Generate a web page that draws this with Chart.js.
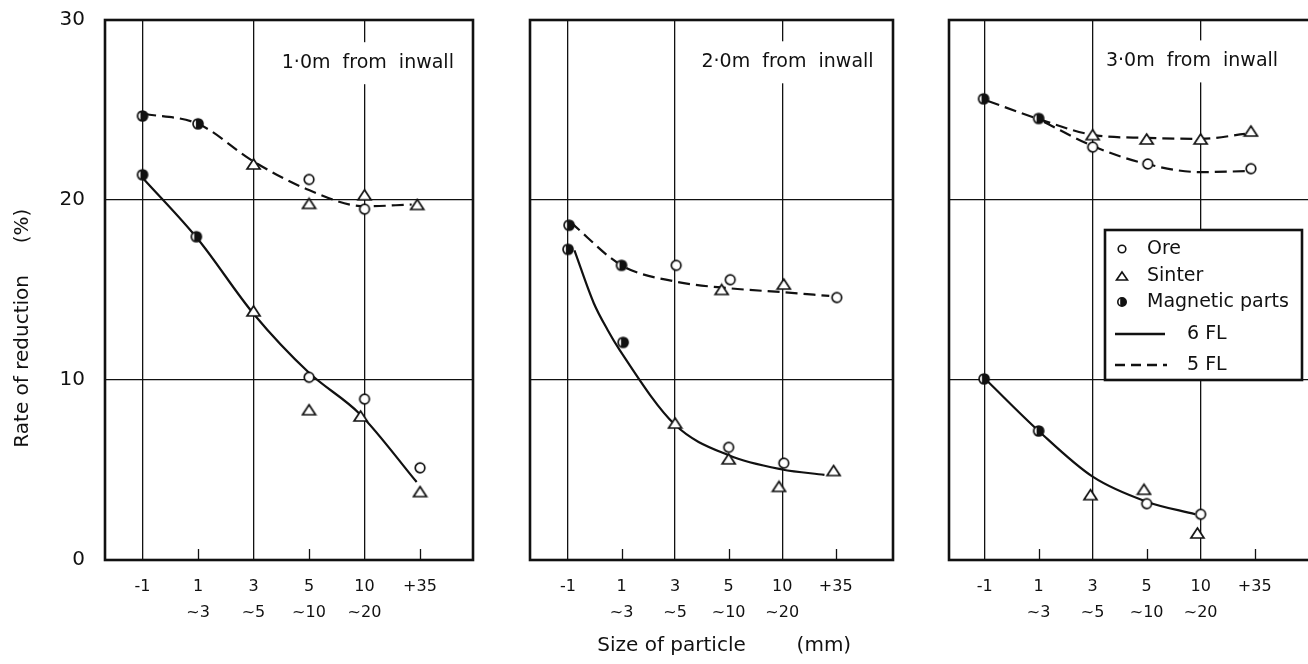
<!DOCTYPE html>
<html><head><meta charset="utf-8">
<script src="https://cdn.jsdelivr.net/npm/chart.js@4.4.1/dist/chart.umd.min.js"></script>
<style>
html,body{margin:0;padding:0;background:#fff;overflow:hidden;width:1308px;height:664px;position:relative}
canvas{position:absolute;top:0}
</style></head><body>
<canvas id="c1" width="480" height="664" style="left:0px"></canvas>
<canvas id="c2" width="400" height="664" style="left:500px"></canvas>
<canvas id="c3" width="420" height="664" style="left:900px"></canvas>
<script>
// ---------- data ----------
const X_TICK_LABELS = [['-1',''],['1','~3'],['3','~5'],['5','~10'],['10','~20'],['+35','']];
const Y_TICKS = [0, 10, 20, 30];
const PANEL_TITLES = ['1\u00B70m  from  inwall', '2\u00B70m  from  inwall', '3\u00B70m  from  inwall'];
const Y_TITLE = 'Rate of reduction     (%)';
const X_TITLE = 'Size of particle        (mm)';
const LEGEND_LABELS = ['Ore', 'Sinter', 'Magnetic parts', '6 FL', '5 FL'];

// Panel 1 : 1.0 m from inwall   ([category position, rate %])
const P1_MAG_6FL    = [[0, 21.4], [0.97, 17.96]];
const P1_SINTER_6FL = [[2, 13.84], [3, 8.35], [3.93, 8.0], [5, 3.8]];
const P1_ORE_6FL    = [[3, 10.15], [4, 8.94], [5, 5.12]];
const P1_MAG_5FL    = [[0, 24.67], [1, 24.23]];
const P1_SINTER_5FL = [[2, 22.0], [3, 19.81], [4, 20.29], [4.95, 19.75]];
const P1_ORE_5FL    = [[3, 21.14], [4, 19.49]];
const P1_CURVE_6FL  = [[0, 21.24], [1, 17.82], [2, 13.68], [3, 10.4], [3.92, 8.1], [4.94, 4.33]];
const P1_CURVE_5FL  = [[0.03, 24.79], [1, 24.23], [2, 22.14], [3, 20.55], [4, 19.65], [4.85, 19.75]];

// Panel 2 : 2.0 m from inwall
const P2_MAG_6FL    = [[0, 17.26], [1.03, 12.09]];
const P2_SINTER_6FL = [[2, 7.61], [3, 5.62], [3.94, 4.09], [4.96, 4.97]];
const P2_ORE_6FL    = [[3, 6.26], [4.03, 5.38]];
const P2_MAG_5FL    = [[0.02, 18.6], [1, 16.37]];
const P2_SINTER_5FL = [[2.87, 15.03], [4.03, 15.33]];
const P2_ORE_5FL    = [[2.02, 16.37], [3.03, 15.57], [5.02, 14.58]];
const P2_CURVE_6FL  = [[0.12, 17.2], [0.48, 14.28], [0.74, 12.78], [0.96, 11.69], [2, 7.51], [3, 5.82], [4, 5.03], [4.79, 4.73]];
const P2_CURVE_5FL  = [[0.05, 18.76], [1, 16.37], [2, 15.47], [3, 15.1], [4, 14.88], [4.88, 14.67]];

// Panel 3 : 3.0 m from inwall
const P3_MAG_6FL    = [[-0.01, 10.06], [1, 7.17]];
const P3_SINTER_6FL = [[1.96, 3.63], [2.95, 3.93], [3.94, 1.5]];
const P3_ORE_6FL    = [[3, 3.13], [4, 2.54]];
const P3_MAG_5FL    = [[-0.02, 25.62], [1, 24.53]];
const P3_SINTER_5FL = [[2, 23.63], [3, 23.39], [4, 23.39], [4.93, 23.83]];
const P3_ORE_5FL    = [[2, 22.94], [3.02, 22.0], [4.93, 21.74]];
const P3_CURVE_6FL  = [[0.03, 10.0], [1, 7.17], [2, 4.63], [3, 3.24], [3.9, 2.54]];
const P3_CURVE_5FL_SINTER = [[0.06, 25.5], [1, 24.5], [2, 23.62], [3, 23.45], [4, 23.4], [4.82, 23.67]];
const P3_CURVE_5FL_ORE    = [[1.1, 24.33], [2, 23.0], [3, 22.0], [4, 21.55], [4.82, 21.6]];

// ---------- styling / helpers ----------
const INK = '#111';
const FONT = "'DejaVu Sans', sans-serif";
Chart.defaults.font.family = FONT;
Chart.defaults.color = INK;

function mkImg(w, h, draw) {
  const c = document.createElement('canvas'); c.width = w; c.height = h;
  const g = c.getContext('2d'); g.strokeStyle = INK; g.fillStyle = INK; g.lineWidth = 1.7;
  draw(g, w, h); return c;
}
function drawOre(g, cx, cy, r) { g.beginPath(); g.arc(cx, cy, r, 0, Math.PI * 2); g.fillStyle = '#fff'; g.fill(); g.strokeStyle = INK; g.stroke(); }
function drawTri(g, cx, cy, w, h) {
  g.beginPath(); g.moveTo(cx, cy - h / 2); g.lineTo(cx + w / 2, cy + h / 2); g.lineTo(cx - w / 2, cy + h / 2); g.closePath();
  g.fillStyle = '#fff'; g.fill(); g.strokeStyle = INK; g.stroke();
}
function drawMag(g, cx, cy, r) {
  g.beginPath(); g.arc(cx, cy, r, 0, Math.PI * 2); g.fillStyle = '#fff'; g.fill();
  g.beginPath(); g.arc(cx, cy, r, -Math.PI * 0.64, Math.PI * 0.64); g.closePath(); g.fillStyle = INK; g.fill();
  g.beginPath(); g.arc(cx, cy, r, 0, Math.PI * 2); g.strokeStyle = INK; g.stroke();
}
const ORE_IMG = mkImg(14, 14, (g, w, h) => drawOre(g, w / 2, h / 2, 4.8));
const SIN_IMG = mkImg(17, 14, (g, w, h) => drawTri(g, w / 2, h / 2, 13, 10));
const MAG_IMG = mkImg(14, 14, (g, w, h) => drawMag(g, w / 2, h / 2, 5));

const pts = a => a.map(([x, y]) => ({ x, y }));
function lineDs(arr, dashed) {
  return { data: pts(arr), showLine: true, borderColor: INK, borderWidth: 2.2, borderDash: dashed ? [12, 6] : [],
    pointRadius: 0, pointHoverRadius: 0, cubicInterpolationMode: 'monotone', fill: false, order: 2 };
}
function markDs(arr, img) {
  return { data: pts(arr), showLine: false, pointStyle: img, pointRadius: 6, pointHoverRadius: 6, order: 1 };
}

const decor = {
  id: 'decor',
  beforeDatasetsDraw(chart, args, o) {
    const { ctx, chartArea: ca, scales: { x, y } } = chart;
    ctx.save();
    // short inner tick marks for the non-gridline categories
    ctx.strokeStyle = INK; ctx.lineWidth = 1.3;
    X_TICK_LABELS.forEach((_, i) => {
      if (i % 2 === 1) { const px = Math.round(x.getPixelForValue(i)) + 0.5; ctx.beginPath(); ctx.moveTo(px, ca.bottom); ctx.lineTo(px, ca.bottom - 11); ctx.stroke(); }
    });
    // panel title with white background
    ctx.font = '19px ' + FONT;
    const tx = x.getPixelForValue(o.tx), ty = y.getPixelForValue(o.ty);
    const w = ctx.measureText(o.title).width;
    ctx.fillStyle = '#fff'; ctx.fillRect(tx - w / 2 - 6, ty - 21, w + 12, 42);
    ctx.fillStyle = INK; ctx.textAlign = 'center'; ctx.textBaseline = 'middle';
    ctx.fillText(o.title, tx, ty);
    // frame
    ctx.lineWidth = 2.6; ctx.strokeStyle = INK;
    ctx.strokeRect(ca.left, ca.top, ca.right - ca.left, ca.bottom - ca.top);
    ctx.restore();
  },
  afterDatasetsDraw(chart, args, o) {
    if (!o.legend) return;
    const { ctx, chartArea: ca } = chart;
    const L = ca.left + 156, T = ca.top + 210, W = 197, H = 150;
    ctx.save();
    ctx.fillStyle = '#fff'; ctx.fillRect(L, T, W, H);
    ctx.lineWidth = 2.6; ctx.strokeStyle = INK; ctx.strokeRect(L, T, W, H);
    const rows = [19, 46, 72, 104, 135];
    ctx.lineWidth = 1.6;
    drawOre(ctx, L + 17, T + rows[0], 3.8);
    drawTri(ctx, L + 17, T + rows[1], 11, 8);
    drawMag(ctx, L + 17, T + rows[2], 4.2);
    ctx.lineWidth = 2.4; ctx.strokeStyle = INK;
    ctx.beginPath(); ctx.moveTo(L + 10, T + rows[3]); ctx.lineTo(L + 60, T + rows[3]); ctx.stroke();
    ctx.setLineDash([10, 6]);
    ctx.beginPath(); ctx.moveTo(L + 10, T + rows[4]); ctx.lineTo(L + 62, T + rows[4]); ctx.stroke();
    ctx.setLineDash([]);
    ctx.fillStyle = INK; ctx.font = '19px ' + FONT; ctx.textAlign = 'left'; ctx.textBaseline = 'middle';
    ctx.fillText(LEGEND_LABELS[0], L + 42, T + rows[0]);
    ctx.fillText(LEGEND_LABELS[1], L + 42, T + rows[1]);
    ctx.fillText(LEGEND_LABELS[2], L + 42, T + rows[2]);
    ctx.fillText(LEGEND_LABELS[3], L + 82, T + rows[3]);
    ctx.fillText(LEGEND_LABELS[4], L + 82, T + rows[4]);
    ctx.restore();
  }
};

function makePanel(id, p) {
  return new Chart(document.getElementById(id), {
    type: 'scatter',
    data: { datasets: p.datasets },
    options: {
      responsive: false, animation: false, devicePixelRatio: 1,
      layout: { padding: { top: 20, right: p.rightPad, bottom: 0, left: 0 } },
      plugins: { legend: { display: false }, tooltip: { enabled: false },
        decor: { title: p.title, tx: p.tx, ty: p.ty, legend: !!p.legend } },
      scales: {
        x: {
          type: 'linear', min: p.xMin, max: p.xMax,
          afterBuildTicks: s => { s.ticks = X_TICK_LABELS.map((_, i) => ({ value: i })); },
          afterFit: s => { s.height = 104; s.paddingLeft = 0; s.paddingRight = 0; },
          ticks: { autoSkip: false, maxRotation: 0, minRotation: 0, padding: 14,
            font: { size: 16, lineHeight: 1.6 }, color: INK,
            callback: (v, i) => X_TICK_LABELS[i] },
          grid: { drawTicks: false, lineWidth: 1.3,
            color: c => (c.tick && c.tick.value % 2 === 0) ? INK : 'rgba(0,0,0,0)' },
          border: { display: false },
          title: { display: !!p.xTitle, text: '    ' + X_TITLE, font: { size: 20 }, color: INK, padding: { top: 0, bottom: 6 } }
        },
        y: {
          min: 0, max: 30,
          afterBuildTicks: s => { s.ticks = Y_TICKS.map(v => ({ value: v })); },
          afterFit: s => { s.width = p.yWidth; s.paddingTop = 0; s.paddingBottom = 0; },
          ticks: { display: !!p.yLabels, padding: 20, font: { size: 20 }, color: INK, callback: v => String(v) },
          grid: { drawTicks: false, lineWidth: 1.3, color: INK },
          border: { display: false },
          title: { display: !!p.yLabels, text: Y_TITLE + ' '.repeat(12), font: { size: 20 }, color: INK, padding: { top: 11, bottom: 0 } }
        }
      }
    },
    plugins: [decor]
  });
}

makePanel('c1', {
  title: PANEL_TITLES[0], tx: 4.06, ty: 27.6, yWidth: 105, rightPad: 2, xMin: -0.676, xMax: 5.955, yLabels: true,
  datasets: [
    lineDs(P1_CURVE_6FL, false), lineDs(P1_CURVE_5FL, true),
    markDs(P1_ORE_6FL.concat(P1_ORE_5FL), ORE_IMG),
    markDs(P1_SINTER_6FL.concat(P1_SINTER_5FL), SIN_IMG),
    markDs(P1_MAG_6FL.concat(P1_MAG_5FL), MAG_IMG)
  ]
});
makePanel('c2', {
  title: PANEL_TITLES[1], tx: 4.1, ty: 27.65, yWidth: 30, rightPad: 0, xMin: -0.71, xMax: 6.07, xTitle: true,
  datasets: [
    lineDs(P2_CURVE_6FL, false), lineDs(P2_CURVE_5FL, true),
    markDs(P2_ORE_6FL.concat(P2_ORE_5FL), ORE_IMG),
    markDs(P2_SINTER_6FL.concat(P2_SINTER_5FL), SIN_IMG),
    markDs(P2_MAG_6FL.concat(P2_MAG_5FL), MAG_IMG)
  ]
});
makePanel('c3', {
  title: PANEL_TITLES[2], tx: 3.84, ty: 27.7, yWidth: 49, rightPad: 3, xMin: -0.66, xMax: 6.08, legend: true,
  datasets: [
    lineDs(P3_CURVE_6FL, false), lineDs(P3_CURVE_5FL_SINTER, true), lineDs(P3_CURVE_5FL_ORE, true),
    markDs(P3_ORE_6FL.concat(P3_ORE_5FL), ORE_IMG),
    markDs(P3_SINTER_6FL.concat(P3_SINTER_5FL), SIN_IMG),
    markDs(P3_MAG_6FL.concat(P3_MAG_5FL), MAG_IMG)
  ]
});
</script>
</body></html>
